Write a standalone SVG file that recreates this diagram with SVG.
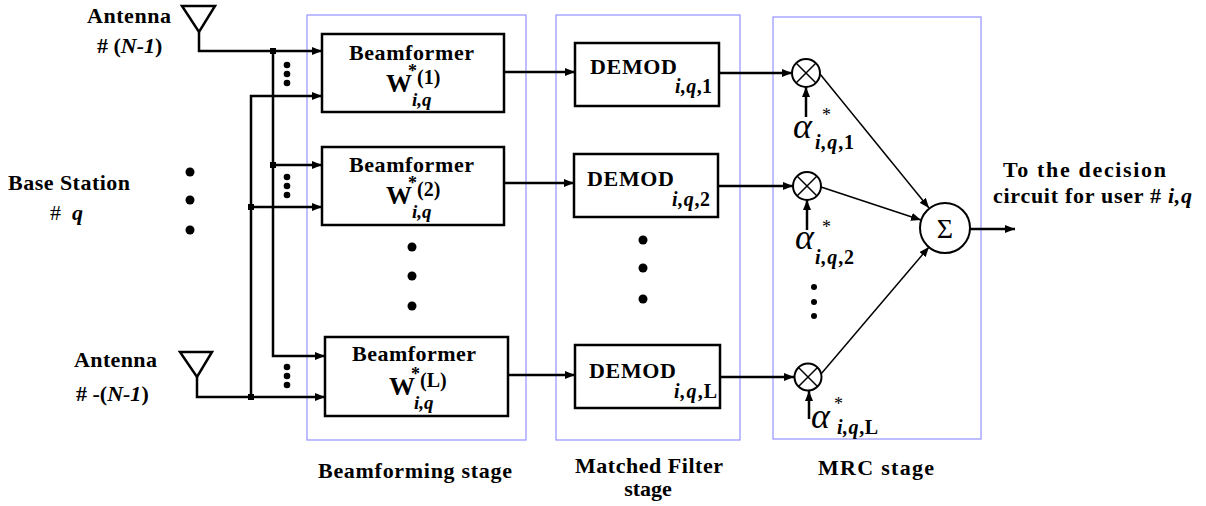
<svg xmlns="http://www.w3.org/2000/svg" width="1206" height="506" viewBox="0 0 1206 506">
<style>
.t{font-family:"Liberation Serif","Times New Roman",serif;font-weight:bold;fill:#000}
.i{font-style:italic}
.r{font-weight:normal}
.ln{stroke:#000;stroke-width:2.5;fill:none}
.th{stroke:#000;stroke-width:1.5;fill:none}
.stage{fill:none;stroke:#9a9aff;stroke-width:1.3}
.box{fill:#fff;stroke:#000;stroke-width:2.5}
.cir{fill:#fff;stroke:#000;stroke-width:2}
.dot{fill:#000}
</style>
<defs>
<marker id="ah" viewBox="0 0 10 8" refX="10" refY="4" markerWidth="10" markerHeight="8" markerUnits="userSpaceOnUse" orient="auto">
<path d="M0,0 L10,4 L0,8 z" fill="#000"/>
</marker>
</defs>
<rect width="1206" height="506" fill="#fff"/>

<g id="stages">
<rect class="stage" x="307" y="15" width="219" height="425"/>
<rect class="stage" x="556" y="15" width="184" height="425"/>
<rect class="stage" x="773" y="17" width="208" height="422"/>
<text class="t" x="318" y="478" font-size="22" textLength="194" lengthAdjust="spacing">Beamforming stage</text>
<text class="t" x="575" y="473" font-size="22" textLength="148" lengthAdjust="spacing">Matched Filter</text>
<text class="t" x="648" y="496" font-size="22" text-anchor="middle">stage</text>
<text class="t" x="818" y="475" font-size="22" textLength="116" lengthAdjust="spacing">MRC stage</text>
</g>

<g id="connectors">
<path class="ln" d="M199,32 V51 H322" marker-end="url(#ah)"/>
<path class="ln" d="M273,51 V356 H325" marker-end="url(#ah)"/>
<path class="ln" d="M273,165 H322" marker-end="url(#ah)"/>
<path class="ln" d="M251,397 V96 H322" marker-end="url(#ah)"/>
<path class="ln" d="M251,207 H322" marker-end="url(#ah)"/>
<path class="ln" d="M197,377 V397 H325" marker-end="url(#ah)"/>
<path class="ln" d="M504,72 H575" marker-end="url(#ah)"/>
<path class="ln" d="M504,183 H574" marker-end="url(#ah)"/>
<path class="ln" d="M508,375 H575" marker-end="url(#ah)"/>
<path class="ln" d="M719,73 H792" marker-end="url(#ah)"/>
<path class="ln" d="M718,186 H793" marker-end="url(#ah)"/>
<path class="ln" d="M720,377 H794" marker-end="url(#ah)"/>
<path class="ln" d="M806,117 V87" marker-end="url(#ah)"/>
<path class="ln" d="M807,230 V200" marker-end="url(#ah)"/>
<path class="ln" d="M809,419 V391" marker-end="url(#ah)"/>
<path class="th" d="M820,74 L929,208" marker-end="url(#ah)"/>
<path class="th" d="M821,187 L921,220" marker-end="url(#ah)"/>
<path class="th" d="M821,374 L929,247" marker-end="url(#ah)"/>
<path class="ln" d="M970,229 H1015" marker-end="url(#ah)"/>
<rect class="dot" x="270" y="48" width="6" height="6"/>
<rect class="dot" x="270" y="162" width="6" height="6"/>
<rect class="dot" x="248" y="204" width="6" height="6"/>
<rect class="dot" x="248" y="394" width="6" height="6"/>
</g>

<g id="antenna-top">
<path class="ln" d="M182,6 H215 L199,32 Z"/>
<text class="t" x="87" y="23" font-size="22" textLength="84" lengthAdjust="spacing">Antenna</text>
<text class="t" x="97" y="53" font-size="22"># (<tspan class="i">N-1</tspan>)</text>
</g>

<g id="antenna-bottom">
<path class="ln" d="M180,352 H212 L197,377 Z"/>
<text class="t" x="74" y="367" font-size="22" textLength="83" lengthAdjust="spacing">Antenna</text>
<text class="t" x="76" y="401" font-size="22"># -(<tspan class="i">N-1</tspan>)</text>
</g>

<g id="base-station">
<text class="t" x="8" y="190" font-size="22" textLength="122" lengthAdjust="spacing">Base Station</text>
<text class="t r" x="50" y="220" font-size="22">#</text>
<text class="t i" x="72" y="220" font-size="22">q</text>
<circle class="dot" cx="190" cy="172" r="4.5"/>
<circle class="dot" cx="190" cy="200" r="4.5"/>
<circle class="dot" cx="190" cy="230" r="4.5"/>
<circle class="dot" cx="287" cy="65" r="3.3"/>
<circle class="dot" cx="287" cy="74" r="3.3"/>
<circle class="dot" cx="287" cy="83" r="3.3"/>
<circle class="dot" cx="287" cy="177" r="3.3"/>
<circle class="dot" cx="287" cy="186" r="3.3"/>
<circle class="dot" cx="287" cy="195" r="3.3"/>
<circle class="dot" cx="287" cy="367" r="3.3"/>
<circle class="dot" cx="287" cy="376" r="3.3"/>
<circle class="dot" cx="287" cy="385" r="3.3"/>
</g>

<g id="beamformer-1">
<rect class="box" x="322" y="34" width="182" height="78"/>
<text class="t" x="349" y="60" font-size="22" textLength="125" lengthAdjust="spacing">Beamformer</text>
<text class="t" x="386" y="92" font-size="26">W<tspan x="408" y="77" font-size="18">*</tspan><tspan x="417" y="84" font-size="20">(1)</tspan><tspan class="i" x="412" y="106" font-size="19">i,q</tspan></text>
</g>

<g id="beamformer-2">
<rect class="box" x="322" y="147" width="182" height="78"/>
<text class="t" x="349" y="172" font-size="22" textLength="125" lengthAdjust="spacing">Beamformer</text>
<text class="t" x="386" y="204" font-size="26">W<tspan x="408" y="189" font-size="18">*</tspan><tspan x="417" y="196" font-size="20">(2)</tspan><tspan class="i" x="412" y="218" font-size="19">i,q</tspan></text>
<circle class="dot" cx="412" cy="247" r="4.5"/>
<circle class="dot" cx="412" cy="276" r="4.5"/>
<circle class="dot" cx="412" cy="306" r="4.5"/>
</g>

<g id="beamformer-L">
<rect class="box" x="325" y="337" width="183" height="79"/>
<text class="t" x="352" y="361" font-size="22" textLength="124" lengthAdjust="spacing">Beamformer</text>
<text class="t" x="389" y="395" font-size="26">W<tspan x="411" y="380" font-size="18">*</tspan><tspan x="420" y="387" font-size="20">(L)</tspan><tspan class="i" x="414" y="409" font-size="19">i,q</tspan></text>
</g>

<g id="demod-1">
<rect class="box" x="575" y="43" width="144" height="63"/>
<text class="t" x="590" y="74" font-size="22" textLength="87" lengthAdjust="spacing">DEMOD</text>
<text class="t" x="675" y="93" font-size="20" textLength="37" lengthAdjust="spacing"><tspan class="i">i,q</tspan>,1</text>
</g>

<g id="demod-2">
<rect class="box" x="574" y="154" width="144" height="63"/>
<text class="t" x="587" y="186" font-size="22" textLength="87" lengthAdjust="spacing">DEMOD</text>
<text class="t" x="672" y="206" font-size="20" textLength="38" lengthAdjust="spacing"><tspan class="i">i,q</tspan>,2</text>
<circle class="dot" cx="643" cy="240" r="4.5"/>
<circle class="dot" cx="643" cy="268" r="4.5"/>
<circle class="dot" cx="643" cy="299" r="4.5"/>
</g>

<g id="demod-L">
<rect class="box" x="575" y="345" width="145" height="63"/>
<text class="t" x="589" y="378" font-size="22" textLength="87" lengthAdjust="spacing">DEMOD</text>
<text class="t" x="674" y="398" font-size="20" textLength="43" lengthAdjust="spacing"><tspan class="i">i,q</tspan>,L</text>
</g>

<g id="mult-1">
<circle class="cir" cx="806" cy="73" r="14"/>
<path class="th" d="M796,63 L816,83 M816,63 L796,83"/>
<text class="t r i" x="793" y="138" font-size="36">α</text>
<text class="t r" x="822" y="121" font-size="18">*</text>
<text class="t" x="815" y="149" font-size="20" textLength="39" lengthAdjust="spacing"><tspan class="i">i,q</tspan>,1</text>
</g>

<g id="mult-2">
<circle class="cir" cx="807" cy="186" r="14"/>
<path class="th" d="M797,176 L817,196 M817,176 L797,196"/>
<text class="t r i" x="795" y="249" font-size="36">α</text>
<text class="t r" x="822" y="233" font-size="18">*</text>
<text class="t" x="815" y="264" font-size="20" textLength="39" lengthAdjust="spacing"><tspan class="i">i,q</tspan>,2</text>
<circle class="dot" cx="814" cy="287" r="3"/>
<circle class="dot" cx="814" cy="302" r="3"/>
<circle class="dot" cx="814" cy="316" r="3"/>
</g>

<g id="mult-L">
<circle class="cir" cx="808" cy="377" r="13.5"/>
<path class="th" d="M798.5,367.5 L817.5,386.5 M817.5,367.5 L798.5,386.5"/>
<text class="t r i" x="811" y="428" font-size="36">α</text>
<text class="t r" x="834" y="410" font-size="18">*</text>
<text class="t" x="837" y="434" font-size="20" textLength="41" lengthAdjust="spacing"><tspan class="i">i,q</tspan>,L</text>
</g>

<g id="sum">
<circle class="cir" cx="945" cy="228" r="25"/>
<text class="t r" x="945" y="238" font-size="28" text-anchor="middle">Σ</text>
</g>

<g id="output-label">
<text class="t" x="1003" y="177" font-size="22" textLength="163" lengthAdjust="spacing">To the decision</text>
<text class="t" x="993" y="203" font-size="22" textLength="199" lengthAdjust="spacing">circuit for user # <tspan class="i">i,q</tspan></text>
</g>
</svg>
